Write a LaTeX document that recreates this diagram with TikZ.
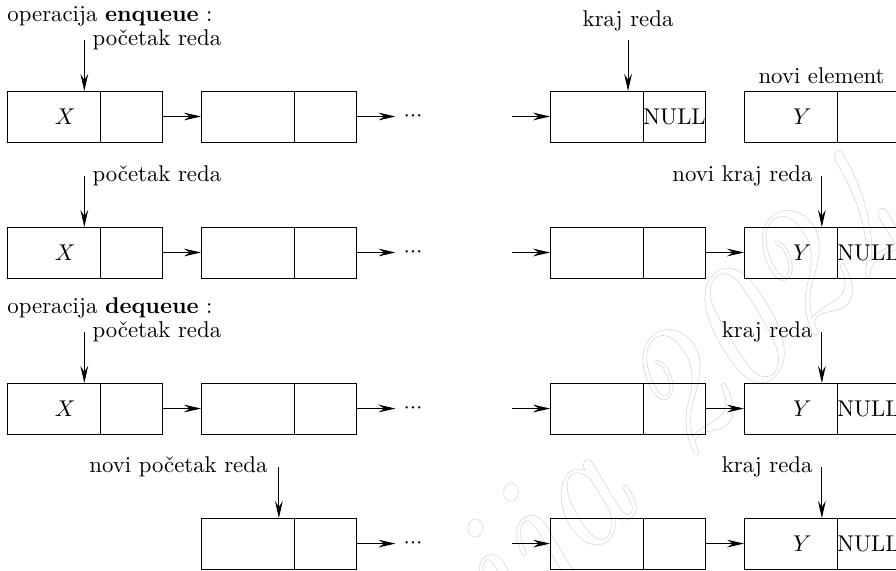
\documentclass[tikz,border=0pt]{standalone}
\usepackage{amsmath}
\usepackage{amssymb}
\usepackage{tikz}
\usepackage{xcolor}
\usetikzlibrary{positioning,arrows.meta,calc}

\newcommand{\tritocke}{$\mathord{\cdotp}\mathord{\cdotp}\mathord{\cdotp}$}

\begin{document}
\begin{tikzpicture}[
  lcell/.style={draw, minimum width=1.434cm, minimum height=0.786cm, inner sep=0, outer sep=0},
  rcell/.style={draw, minimum width=0.956cm, minimum height=0.786cm, inner sep=0, outer sep=0},
  val/.style={label={[xshift=0.18cm]center:$#1$}},
  ptr/.style={-{Stealth[length=7.5pt, width=3.4pt, inset=2.6pt]}},
  lbl/.style={inner sep=0},
]
\useasboundingbox (0,0) rectangle (13.815,-8.789);
% --- znak verzije ---
\node[rotate=45, text=black!14] (wm) at (8.85,-7.95)
  {\special{pdf:code 1 Tr 0.3 w}\fontsize{74}{74}\selectfont\itshape Verzija 2024\special{pdf:code 0 Tr}};
% ===================== ENQUEUE: prije =====================
\begin{scope}[yshift=-1.403cm]
  \node[lbl, anchor=base west] (t1) at (0.108,1.079) {operacija \textbf{enqueue} :};
  \node[lcell, val=X] (a1) at (0.825,-0.393) {};
  \node[rcell, right=0pt of a1] (a1n) {};
  \node[lcell] (b1) at (3.816,-0.393) {};
  \node[rcell, right=0pt of b1] (b1n) {};
  \node (d1) at (6.368,-0.393) {\tritocke};
  \coordinate (s1) at (7.895,-0.393);
  \node[lcell] (c1) at (9.198,-0.393) {};
  \node[rcell, right=0pt of c1] (c1n) {NULL};
  \node[lcell, val=Y] (e1) at (12.189,-0.393) {};
  \node[rcell, right=0pt of e1] (e1n) {};
  \node[lbl, anchor=base] (n1) at ($(e1.north west)!0.5!(e1n.north east)+(0,0.123)$) {novi element};
  \draw[ptr] (a1n) -- (b1);
  \draw[ptr] (b1n) -- (d1);
  \draw[ptr] (s1) -- (c1);
  \coordinate (p1) at (1.30,0.786);
  \node[lbl, anchor=base west] (l1) at (1.42,0.709) {početak reda};
  \draw[ptr] (p1) -- (p1 |- a1.north);
  \coordinate (q1) at (9.684,0.786);
  \node[lbl, anchor=base] (k1) at (9.684,0.987) {kraj reda};
  \draw[ptr] (q1) -- (q1 |- c1.north);
\end{scope}
% ===================== ENQUEUE: poslije =====================
\begin{scope}[yshift=-3.500cm]
  \node[lcell, val=X] (a2) at (0.825,-0.393) {};
  \node[rcell, right=0pt of a2] (a2n) {};
  \node[lcell] (b2) at (3.816,-0.393) {};
  \node[rcell, right=0pt of b2] (b2n) {};
  \node (d2) at (6.368,-0.393) {\tritocke};
  \coordinate (s2) at (7.895,-0.393);
  \node[lcell] (c2) at (9.198,-0.393) {};
  \node[rcell, right=0pt of c2] (c2n) {};
  \node[lcell, val=Y] (e2) at (12.189,-0.393) {};
  \node[rcell, right=0pt of e2] (e2n) {NULL};
  \draw[ptr] (a2n) -- (b2);
  \draw[ptr] (b2n) -- (d2);
  \draw[ptr] (s2) -- (c2);
  \draw[ptr] (c2n) -- (e2);
  \coordinate (p2) at (1.30,0.786);
  \node[lbl, anchor=base west] (l2) at (1.42,0.709) {početak reda};
  \draw[ptr] (p2) -- (p2 |- a2.north);
  \coordinate (q2) at (12.672,0.786);
  \node[lbl, anchor=base east] (k2) at (12.535,0.709) {novi kraj reda};
  \draw[ptr] (q2) -- (q2 |- e2.north);
\end{scope}
% ===================== DEQUEUE: prije =====================
\begin{scope}[yshift=-5.906cm]
  \node[lbl, anchor=base west] (t3) at (0.108,1.079) {operacija \textbf{dequeue} :};
  \node[lcell, val=X] (a3) at (0.825,-0.393) {};
  \node[rcell, right=0pt of a3] (a3n) {};
  \node[lcell] (b3) at (3.816,-0.393) {};
  \node[rcell, right=0pt of b3] (b3n) {};
  \node (d3) at (6.368,-0.393) {\tritocke};
  \coordinate (s3) at (7.895,-0.393);
  \node[lcell] (c3) at (9.198,-0.393) {};
  \node[rcell, right=0pt of c3] (c3n) {};
  \node[lcell, val=Y] (e3) at (12.189,-0.393) {};
  \node[rcell, right=0pt of e3] (e3n) {NULL};
  \draw[ptr] (a3n) -- (b3);
  \draw[ptr] (b3n) -- (d3);
  \draw[ptr] (s3) -- (c3);
  \draw[ptr] (c3n) -- (e3);
  \coordinate (p3) at (1.30,0.786);
  \node[lbl, anchor=base west] (l3) at (1.42,0.709) {početak reda};
  \draw[ptr] (p3) -- (p3 |- a3.north);
  \coordinate (q3) at (12.672,0.786);
  \node[lbl, anchor=base east] (k3) at (12.535,0.709) {kraj reda};
  \draw[ptr] (q3) -- (q3 |- e3.north);
\end{scope}
% ===================== DEQUEUE: poslije =====================
\begin{scope}[yshift=-7.988cm]
  \node[lcell] (b4) at (3.816,-0.393) {};
  \node[rcell, right=0pt of b4] (b4n) {};
  \node (d4) at (6.368,-0.393) {\tritocke};
  \coordinate (s4) at (7.895,-0.393);
  \node[lcell] (c4) at (9.198,-0.393) {};
  \node[rcell, right=0pt of c4] (c4n) {};
  \node[lcell, val=Y] (e4) at (12.189,-0.393) {};
  \node[rcell, right=0pt of e4] (e4n) {NULL};
  \draw[ptr] (b4n) -- (d4);
  \draw[ptr] (s4) -- (c4);
  \draw[ptr] (c4n) -- (e4);
  \coordinate (p4) at (4.30,0.786);
  \node[lbl, anchor=base east] (l4) at (4.13,0.709) {novi početak reda};
  \draw[ptr] (p4) -- (p4 |- b4.north);
  \coordinate (q4) at (12.672,0.786);
  \node[lbl, anchor=base east] (k4) at (12.535,0.709) {kraj reda};
  \draw[ptr] (q4) -- (q4 |- e4.north);
\end{scope}
\end{tikzpicture}
\end{document}
